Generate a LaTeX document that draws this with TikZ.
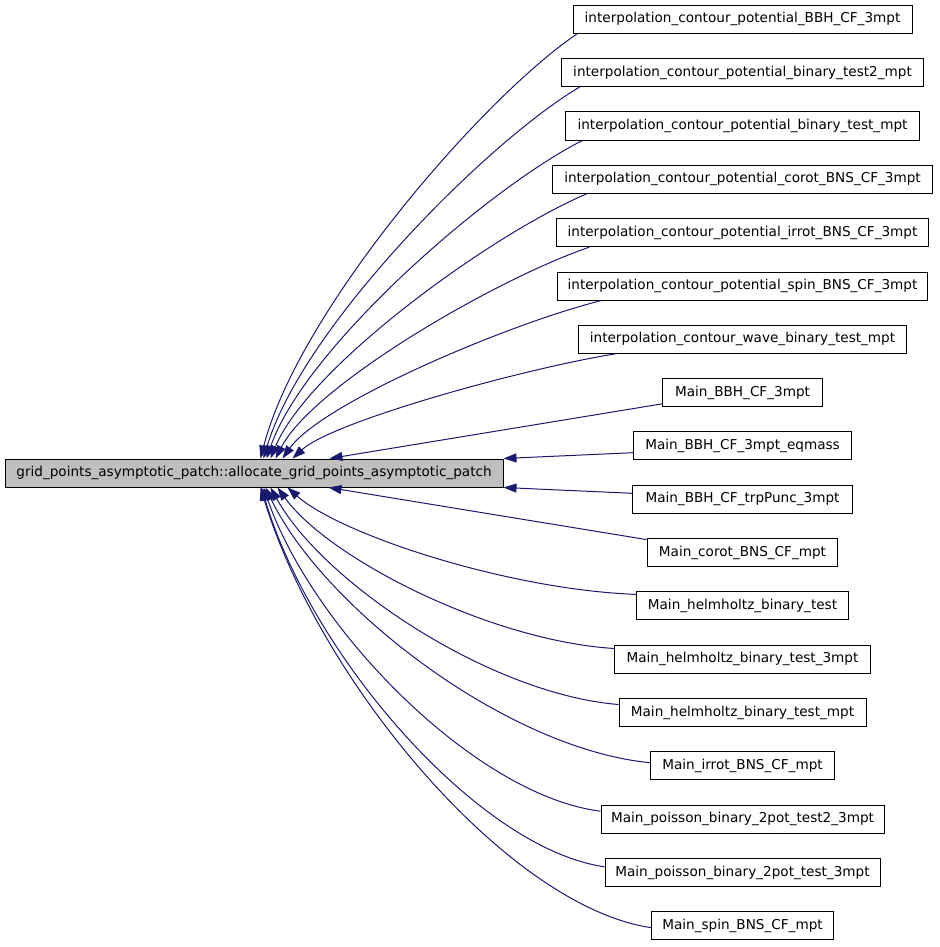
\documentclass[tikz,border=0pt]{standalone}
\usepackage{fontspec}
\setmainfont{DejaVu Sans}
\usetikzlibrary{arrows.meta,calc}
\definecolor{edgec}{HTML}{191970}
\definecolor{rootfill}{HTML}{BFBFBF}
\tikzset{
  box/.style={draw=black, line width=1pt, fill=white, minimum height=28pt, inner sep=0pt, font=\fontsize{13.6}{16}\selectfont},
  rootbox/.style={box, fill=rootfill},
  edge/.style={draw=edgec, line width=1pt, -{Triangle[length=13pt,width=9pt]}}
}
\begin{document}
\begin{tikzpicture}[x=1pt,y=-1pt]
\useasboundingbox (0,0) rectangle (939,947);
\node[rootbox, minimum width=498pt] (main) at (254,473) {grid\_points\_asymptotic\_patch::allocate\_grid\_points\_asymptotic\_patch};
\node[box, minimum width=339pt]   (r1)  at (742.5,19.3)  {interpolation\_contour\_potential\_BBH\_CF\_3mpt};
\node[box, minimum width=361.6pt] (r2)  at (742.5,72.6)  {interpolation\_contour\_potential\_binary\_test2\_mpt};
\node[box, minimum width=353.3pt] (r3)  at (742.5,126.0) {interpolation\_contour\_potential\_binary\_test\_mpt};
\node[box, minimum width=380.4pt] (r4)  at (742.5,179.3) {interpolation\_contour\_potential\_corot\_BNS\_CF\_3mpt};
\node[box, minimum width=372pt]   (r5)  at (742.5,232.6) {interpolation\_contour\_potential\_irrot\_BNS\_CF\_3mpt};
\node[box, minimum width=370.4pt] (r6)  at (742.5,286.0) {interpolation\_contour\_potential\_spin\_BNS\_CF\_3mpt};
\node[box, minimum width=328pt]   (r7)  at (742.5,339.3) {interpolation\_contour\_wave\_binary\_test\_mpt};
\node[box, minimum width=159.3pt] (r8)  at (742.5,392.6) {Main\_BBH\_CF\_3mpt};
\node[box, minimum width=218pt]   (r9)  at (742.5,445.9) {Main\_BBH\_CF\_3mpt\_eqmass};
\node[box, minimum width=219.3pt] (r10) at (742.5,499.3) {Main\_BBH\_CF\_trpPunc\_3mpt};
\node[box, minimum width=190.7pt] (r11) at (742.5,552.6) {Main\_corot\_BNS\_CF\_mpt};
\node[box, minimum width=211.6pt] (r12) at (742.5,605.9) {Main\_helmholtz\_binary\_test};
\node[box, minimum width=255.3pt] (r13) at (742.5,659.3) {Main\_helmholtz\_binary\_test\_3mpt};
\node[box, minimum width=247pt]   (r14) at (742.5,712.6) {Main\_helmholtz\_binary\_test\_mpt};
\node[box, minimum width=183.3pt] (r15) at (742.5,765.9) {Main\_irrot\_BNS\_CF\_mpt};
\node[box, minimum width=283pt]   (r16) at (742.5,819.3) {Main\_poisson\_binary\_2pot\_test2\_3mpt};
\node[box, minimum width=275pt]   (r17) at (742.5,872.6) {Main\_poisson\_binary\_2pot\_test\_3mpt};
\node[box, minimum width=181.6pt] (r18) at (742.5,925.9) {Main\_spin\_BNS\_CF\_mpt};

\draw[edge] ($(r1.south west)+(4.7,0)$)  .. controls (483,97.2) and (299,310) .. ($(main.north west)+(256,0)$);
\draw[edge] ($(r2.south west)+(18.3,0)$) .. controls (485.2,143.1) and (301.9,328.9) .. ($(main.north west)+(259,0)$);
\draw[edge] ($(r3.south west)+(17,0)$)   .. controls (488.2,188.1) and (304.9,347.5) .. ($(main.north west)+(262,0)$);
\draw[edge] ($(r4.south west)+(35,0)$)   .. controls (492.2,233.8) and (308.9,366.3) .. ($(main.north west)+(266,0)$);
\draw[edge] ($(r5.south west)+(33.5,0)$) .. controls (495.8,279.1) and (313.7,384.9) .. ($(main.north west)+(271,0)$);
\draw[edge] ($(r6.south west)+(44.7,0)$) .. controls (506.3,324.4) and (321.3,403.6) .. ($(main.north west)+(278,0)$);
\draw[edge] ($(r7.south west)+(37.5,0)$) .. controls (519.1,369.5) and (331.8,422.1) .. ($(main.north west)+(288,0)$);
\draw[edge] ($(r8.south west)+(0,-3.3)$) -- ($(main.north west)+(325,0)$);
\draw[edge] ($(r9.west)+(0,6.8)$) -- (main.north east);
\draw[edge] ($(r10.west)+(0,-6)$) -- (main.south east);
\draw[edge] ($(r11.north west)+(0,1.5)$)  -- ($(main.south west)+(324,0)$);
\draw[edge] ($(r12.north west)+(0,3)$)    .. controls (507.7,589.6) and (340.3,534.5) .. ($(main.south west)+(283,0)$);
\draw[edge] ($(r13.north west)+(0,3.7)$)  .. controls (490.2,640.9) and (328.5,558.3) .. ($(main.south west)+(273,0)$);
\draw[edge] ($(r14.north west)+(0,6.4)$)  .. controls (490.2,694.1) and (323.2,582.9) .. ($(main.south west)+(266,0)$);
\draw[edge] ($(r15.north west)+(0,11.3)$) .. controls (508.5,749.5) and (323.7,608.6) .. ($(main.south west)+(261,0)$);
\draw[edge] ($(r16.north west)+(0,6.4)$)  .. controls (475.6,795.5) and (312.9,629.9) .. ($(main.south west)+(259,0)$);
\draw[edge] ($(r17.north west)+(0,8.7)$)  .. controls (477,848.3) and (310.9,654.3) .. ($(main.south west)+(257,0)$);
\draw[edge] ($(r18.north west)+(0,16.3)$) .. controls (507.1,906.2) and (319.6,681.2) .. ($(main.south west)+(256,0)$);
\end{tikzpicture}
\end{document}
